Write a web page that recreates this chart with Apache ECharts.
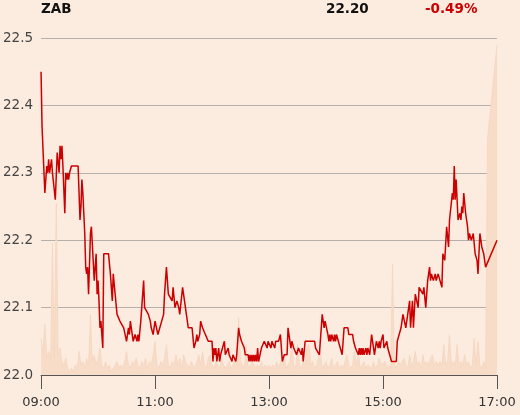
<!DOCTYPE html>
<html>
<head>
<meta charset="utf-8">
<script src="https://cdn.jsdelivr.net/npm/echarts@6/dist/echarts.min.js"></script>
<style>
  html, body { margin: 0; padding: 0; background: #fcece0; }
  #chart { width: 520px; height: 415px; }
</style>
</head>
<body>
<div id="chart"></div>
<script>
// header text
var ticker = 'ZAB';
var lastPrice = '22.20';
var change = '-0.49%';

// x ticks every 2 hours, minutes since 09:00
var tickLabels = ['09:00', '11:00', '13:00', '15:00', '17:00'];

// price line: minutes since open / price
var priceTimes = [0,1,4,6,7,8,9,11,12,14,15,17,19,20,21,22,23,25,26,27,28,29,30,32,39,40,41,42,43,44,45,46,47,48,49,50,52,53,55,56,58,59,60,61,62,63,65,66,71,73,75,76,78,80,81,83,85,87,88,90,92,93,94,96,97,99,101,102,103,105,106,108,109,111,113,115,116,118,120,122,123,125,127,129,130,132,134,136,138,139,141,143,145,146,149,152,155,159,161,163,164,165,167,168,170,172,173,175,176,180,181,182,183,184,185,186,187,188,189,190,193,194,196,197,198,200,201,202,204,205,206,208,209,211,213,214,215,218,219,220,221,222,223,224,225,226,227,228,229,230,232,233,234,235,237,238,239,241,242,243,245,246,247,250,251,252,254,256,259,260,262,263,264,266,268,269,271,273,274,275,276,278,288,289,291,293,296,298,299,300,302,303,304,305,306,308,309,310,311,313,315,317,319,321,323,324,328,329,331,333,334,335,336,337,338,339,340,342,343,344,346,348,349,350,351,353,355,356,357,358,360,361,363,364,365,367,369,374,375,377,379,381,383,384,386,388,389,391,392,394,396,397,398,400,402,403,405,407,409,410,411,413,415,416,418,420,422,423,425,427,429,430,432,433,434,435,436,437,438,439,441,442,443,444,445,447,448,449,450,451,452,453,455,457,459,460,462,464,465,466,468,480];
var prices = [22.45,22.37,22.27,22.31,22.30,22.32,22.30,22.32,22.30,22.30,22.26,22.33,22.30,22.34,22.32,22.34,22.31,22.24,22.30,22.29,22.30,22.29,22.30,22.31,22.31,22.27,22.23,22.25,22.29,22.27,22.24,22.21,22.16,22.15,22.16,22.12,22.21,22.22,22.22,22.14,22.18,22.12,22.14,22.11,22.07,22.08,22.04,22.18,22.18,22.15,22.11,22.15,22.12,22.09,22.09,22.08,22.08,22.07,22.07,22.05,22.07,22.06,22.08,22.08,22.05,22.06,22.05,22.06,22.05,22.08,22.08,22.14,22.10,22.10,22.09,22.08,22.07,22.06,22.08,22.08,22.06,22.06,22.08,22.09,22.12,22.16,22.12,22.12,22.11,22.13,22.10,22.11,22.10,22.09,22.13,22.10,22.07,22.07,22.04,22.05,22.06,22.05,22.06,22.08,22.07,22.07,22.06,22.06,22.05,22.05,22.02,22.04,22.03,22.04,22.02,22.03,22.04,22.02,22.03,22.03,22.05,22.03,22.03,22.04,22.03,22.03,22.02,22.03,22.03,22.02,22.03,22.07,22.06,22.05,22.05,22.04,22.03,22.03,22.02,22.03,22.02,22.03,22.02,22.03,22.02,22.03,22.02,22.04,22.02,22.02,22.04,22.04,22.04,22.05,22.05,22.04,22.05,22.05,22.04,22.05,22.05,22.04,22.05,22.05,22.05,22.06,22.02,22.03,22.03,22.07,22.05,22.04,22.05,22.04,22.04,22.03,22.04,22.04,22.03,22.04,22.02,22.05,22.05,22.04,22.04,22.03,22.09,22.07,22.08,22.08,22.06,22.05,22.06,22.05,22.06,22.05,22.06,22.05,22.06,22.05,22.04,22.03,22.07,22.07,22.07,22.06,22.06,22.05,22.04,22.04,22.03,22.04,22.03,22.04,22.03,22.04,22.03,22.04,22.03,22.04,22.03,22.06,22.05,22.05,22.03,22.05,22.04,22.05,22.04,22.05,22.06,22.04,22.04,22.05,22.04,22.03,22.02,22.02,22.05,22.06,22.07,22.09,22.09,22.07,22.09,22.11,22.07,22.11,22.07,22.12,22.12,22.10,22.13,22.13,22.12,22.13,22.10,22.14,22.16,22.14,22.15,22.14,22.15,22.14,22.15,22.14,22.13,22.18,22.17,22.22,22.19,22.23,22.23,22.27,22.26,22.31,22.26,22.29,22.26,22.23,22.24,22.23,22.25,22.24,22.27,22.24,22.24,22.22,22.20,22.21,22.21,22.20,22.21,22.18,22.17,22.15,22.21,22.19,22.19,22.18,22.16,22.20];

// volume, one value every 2 minutes from 09:00 to 16:48 (relative units)
var volumes = [
  11,6,15,5,7,4,39,5,51,6,8,4,3,5,2,1,2,1,3,2,7,3,4,2,5,3,18,4,6,3,
  5,8,3,2,4,2,3,1,2,3,4,2,3,2,4,7,3,2,4,3,5,3,2,4,3,5,2,4,3,6,
  10,3,2,4,3,5,9,3,2,4,3,6,3,5,2,6,4,3,2,4,3,2,4,6,3,7,3,2,5,6,
  3,2,4,3,2,5,3,2,3,4,2,3,5,3,17,4,3,2,9,3,2,4,3,2,3,2,4,2,3,2,
  3,2,3,2,4,2,4,3,6,2,3,4,9,3,2,9,3,2,4,3,8,9,3,4,2,3,3,7,2,3,
  4,2,3,5,2,3,4,2,3,2,4,6,3,2,3,7,3,7,2,3,4,2,3,3,2,4,2,3,5,3,
  3,4,2,3,2,33,3,2,4,3,3,5,3,2,6,3,4,7,3,4,2,6,3,4,3,5,6,3,4,3,
  4,3,9,3,4,12,3,4,3,9,3,4,3,6,3,4,2,3,11,3,10,3,2,4,2
];
// closing auction volume
var closeMinutes = [470, 480];
var closeVolumes = [70, 98];

var priceData = priceTimes.map(function (t, i) { return [t, prices[i]]; });
var volumeData = volumes.map(function (v, i) { return [i * 2, v]; });
closeMinutes.forEach(function (t, i) { volumeData.push([t, closeVolumes[i]]); });

var myChart = echarts.init(document.getElementById('chart'));

var headStyle = { fontSize: 13.5, fontWeight: 'bold', color: '#111', fontFamily: 'DejaVu Sans' };

var option = {
  backgroundColor: '#fcece0',
  animation: false,
  textStyle: { fontFamily: 'DejaVu Sans' },
  title: [
    { text: ticker, left: 41, top: 2, padding: 0, textStyle: headStyle },
    { text: lastPrice, left: 326, top: 2, padding: 0, textStyle: headStyle },
    { text: change, left: 425, top: 2, padding: 0, textStyle: Object.assign({}, headStyle, { color: '#cc0000' }) }
  ],
  grid: { left: 41, right: 23, top: 38, bottom: 40 },
  xAxis: {
    type: 'value',
    min: 0,
    max: 480,
    interval: 120,
    axisLine: { show: true, lineStyle: { color: '#555', width: 1 } },
    axisTick: { show: true, length: 14, lineStyle: { color: '#555' } },
    axisLabel: {
      margin: 21,
      fontSize: 13,
      color: '#333',
      fontFamily: 'DejaVu Sans',
      formatter: function (v) { return tickLabels[Math.round(v / 120)]; }
    },
    splitLine: { show: false }
  },
  yAxis: [
    {
      type: 'value',
      min: 22.0,
      max: 22.5,
      interval: 0.1,
      axisLine: { show: false },
      axisTick: { show: false },
      axisLabel: {
        margin: 8,
        fontSize: 13.5,
        color: '#444',
        fontFamily: 'DejaVu Sans',
        formatter: function (v) { return v.toFixed(1); }
      },
      splitLine: { show: true, lineStyle: { color: '#b5b0ab', width: 1 } }
    },
    {
      type: 'value',
      min: 0,
      max: 100,
      show: false,
      splitLine: { show: false }
    }
  ],
  series: [
    {
      name: 'volume',
      type: 'line',
      yAxisIndex: 1,
      data: volumeData,
      symbol: 'none',
      lineStyle: { width: 0.8, color: '#f5d6bf' },
      areaStyle: { color: '#f7dcc8', opacity: 1 },
      z: 1
    },
    {
      name: 'price',
      type: 'line',
      data: priceData,
      symbol: 'none',
      lineStyle: { width: 1.5, color: '#cc0000' },
      z: 3
    }
  ]
};

myChart.setOption(option);
</script>
</body>
</html>
